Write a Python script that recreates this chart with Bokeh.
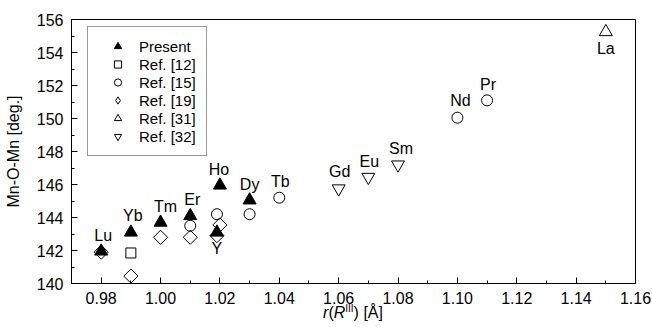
import math
from bokeh.plotting import figure
from bokeh.models import (ColumnDataSource, Legend, LegendItem, Div,
                          SingleIntervalTicker, NumeralTickFormatter, Range1d)
from bokeh.layouts import column
from bokeh.core.properties import value
from bokeh.embed import file_html
from bokeh.resources import INLINE

# ---------------- data ----------------
present_r = [0.98, 0.99, 1.00, 1.01, 1.02, 1.03, 1.019]
present_a = [141.95, 143.1, 143.7, 144.1, 145.95, 145.05, 143.1]

ref12_r = [0.99]
ref12_a = [141.85]

ref15_r = [1.01, 1.019, 1.03, 1.04, 1.10, 1.11]
ref15_a = [143.5, 144.2, 144.2, 145.2, 150.05, 151.1]

ref19_r = [0.98, 0.99, 1.00, 1.01, 1.02, 1.019]
ref19_a = [141.9, 140.45, 142.8, 142.8, 143.55, 142.9]

ref31_r = [1.15]
ref31_a = [155.25]

ref32_r = [1.06, 1.07, 1.08]
ref32_a = [145.75, 146.45, 147.2]

# element labels: (name, series, index)
element_labels = [
    ("Lu", "present", 0), ("Yb", "present", 1), ("Tm", "present", 2),
    ("Er", "present", 3), ("Ho", "present", 4), ("Dy", "present", 5),
    ("Y", "present", 6), ("Tb", "ref15", 3), ("Gd", "ref32", 0),
    ("Eu", "ref32", 1), ("Sm", "ref32", 2), ("Nd", "ref15", 4),
    ("Pr", "ref15", 5), ("La", "ref31", 0),
]

legend_labels = ["Present", "Ref. [12]", "Ref. [15]", "Ref. [19]", "Ref. [31]", "Ref. [32]"]
x_title_html = ("<span style='position:relative; top:-5px'><i>r</i>(<i>R</i>"
                "<span style='font-size:10px; position:relative; top:-6px'>III</span>"
                ") [Å]</span>")
y_title = "Mn-O-Mn [deg.]"

x_ticks_interval = 0.02
y_ticks_interval = 2

# ---------------- layout / styles ----------------
FONT = "Liberation Sans"
series = {
    "present": (present_r, present_a),
    "ref12": (ref12_r, ref12_a),
    "ref15": (ref15_r, ref15_a),
    "ref19": (ref19_r, ref19_a),
    "ref31": (ref31_r, ref31_a),
    "ref32": (ref32_r, ref32_a),
}
# pixel offsets for element labels (dx, dy): negative dy = above
label_offsets = {
    "Lu": (2, -16), "Yb": (2, -17), "Tm": (5, -16), "Er": (2, -16),
    "Ho": (-1, -16), "Dy": (0, -16), "Y": (0, 16), "Tb": (1, -16),
    "Gd": (1, -17), "Eu": (1, -16), "Sm": (3, -16), "Nd": (3, -17),
    "Pr": (1, -16), "La": (0, 17),
}

p = figure(width=652, height=310, output_backend="svg", toolbar_location=None,
           x_range=Range1d(0.97, 1.16), y_range=Range1d(140, 156),
           min_border_left=71, min_border_right=17, min_border_top=19,
           min_border_bottom=27)
p.background_fill_color = "white"
p.border_fill_color = "white"
p.outline_line_color = "black"
p.outline_line_width = 1
p.xgrid.visible = False
p.ygrid.visible = False

p.xaxis.ticker = SingleIntervalTicker(interval=x_ticks_interval, num_minor_ticks=2)
p.yaxis.ticker = SingleIntervalTicker(interval=y_ticks_interval, num_minor_ticks=2)
p.xaxis.formatter = NumeralTickFormatter(format="0.00")
for ax in (p.xaxis, p.yaxis):
    ax.major_tick_in = 6
    ax.major_tick_out = 0
    ax.minor_tick_in = 3
    ax.minor_tick_out = 0
    ax.axis_line_color = "black"
    ax.major_tick_line_color = "black"
    ax.minor_tick_line_color = "black"
    ax.major_label_text_font = FONT
    ax.major_label_text_font_size = "16px"
    ax.major_label_text_color = "black"
    ax.major_label_standoff = 8
p.yaxis.axis_label = y_title
p.yaxis.axis_label_text_font = FONT
p.yaxis.axis_label_text_font_size = "16px"
p.yaxis.axis_label_text_font_style = "normal"
p.yaxis.axis_label_text_color = "black"
p.yaxis.axis_label_standoff = 12

mk = dict(line_color="black", line_width=1)
r12 = p.scatter(ref12_r, ref12_a, marker="square", size=10, fill_color=None, **mk)
r15 = p.scatter(ref15_r, ref15_a, marker="circle", size=11, fill_color=None, **mk)
r19 = p.scatter(ref19_r, ref19_a, marker="square", angle=math.pi / 4, size=10,
                fill_color=None, **mk)
r31 = p.scatter(ref31_r, ref31_a, marker="triangle", size=13, fill_color=None, **mk)
r32 = p.scatter(ref32_r, ref32_a, marker="inverted_triangle", size=13,
                fill_color=None, **mk)
rp = p.scatter(present_r, present_a, marker="triangle", size=13,
               fill_color="black", **mk)
# legend-only glyph for the diamond (legend ignores marker angle); NaN = not drawn
r19_leg = p.scatter([float("nan")], [float("nan")], marker="diamond", size=10,
                    fill_color=None, **mk)

# element labels
lx, ly, lt, dxs, dys = [], [], [], [], []
for name, s, i in element_labels:
    xs, ys = series[s]
    lx.append(xs[i]); ly.append(ys[i]); lt.append(name)
    dx, dy = label_offsets[name]
    dxs.append(dx); dys.append(dy)
src = ColumnDataSource(dict(x=lx, y=ly, t=lt, dx=dxs, dy=dys))
p.text(x="x", y="y", text="t", x_offset="dx", y_offset="dy", source=src,
       text_font=value(FONT), text_font_size="16px", text_color="black",
       text_align="center", text_baseline="middle")

legend = Legend(items=[
    LegendItem(label=legend_labels[0], renderers=[rp]),
    LegendItem(label=legend_labels[1], renderers=[r12]),
    LegendItem(label=legend_labels[2], renderers=[r15]),
    LegendItem(label=legend_labels[3], renderers=[r19_leg]),
    LegendItem(label=legend_labels[4], renderers=[r31]),
    LegendItem(label=legend_labels[5], renderers=[r32]),
], location=(16, 127))
legend.label_text_font = FONT
legend.label_text_font_size = "15px"
legend.label_text_color = "black"
legend.label_height = 18
legend.glyph_height = 18
legend.glyph_width = 39
legend.label_standoff = 2
legend.spacing = 0
legend.padding = 10
legend.margin = 0
legend.border_line_color = "#333333"
legend.border_line_width = 1
legend.background_fill_color = "white"
legend.background_fill_alpha = 1
p.add_layout(legend, "center")

xtitle = Div(text=x_title_html, width=600, height=17, margin=(0, 0, 0, 53),
             styles={"text-align": "center", "font-family": FONT,
                     "font-size": "16px", "line-height": "16px", "color": "black",
                     "overflow": "visible"})

layout = column(p, xtitle, spacing=0)
open("out.html", "w").write(file_html(layout, INLINE))
